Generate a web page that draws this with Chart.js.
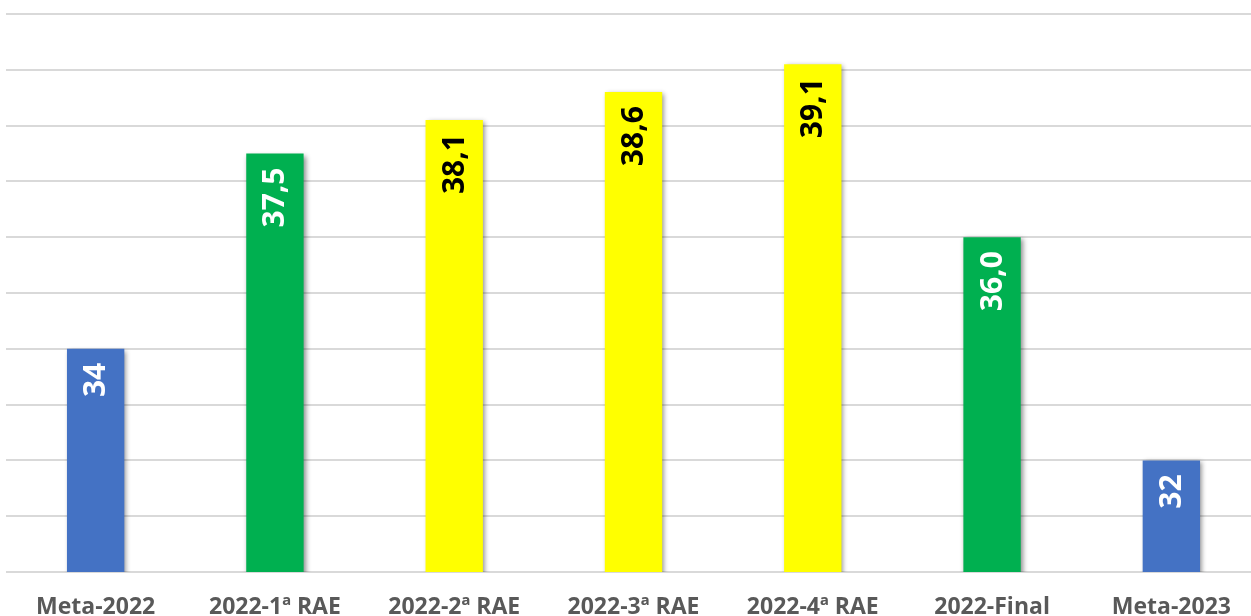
<!DOCTYPE html>
<html>
<head>
<meta charset="utf-8">
<script src="https://cdn.jsdelivr.net/npm/chart.js@4"></script>
<style>
  html, body { margin: 0; padding: 0; background: #fff; overflow: hidden; }
  #wrap { width: 1261px; height: 616px; }
</style>
</head>
<body>
<div id="wrap"><canvas id="rapChart" width="1261" height="616"></canvas></div>
<script>
const categorias = ['Meta-2022', '2022-1ª RAE', '2022-2ª RAE', '2022-3ª RAE', '2022-4ª RAE', '2022-Final', 'Meta-2023'];
const valores = [34, 37.5, 38.1, 38.6, 39.1, 36.0, 32];
const rotulos = ['34', '37,5', '38,1', '38,6', '39,1', '36,0', '32'];
const coresBarra = ['#4472C4', '#00B050', '#FFFF00', '#FFFF00', '#FFFF00', '#00B050', '#4472C4'];
const coresRotulo = ['#FFFFFF', '#FFFFFF', '#000000', '#000000', '#000000', '#FFFFFF', '#FFFFFF'];

// sombra das barras
const sombraPlugin = {
  id: 'sombra',
  beforeDatasetsDraw(chart) {
    const ctx = chart.ctx;
    ctx.save();
    ctx.shadowColor = 'rgba(0,0,0,0.45)';
    ctx.shadowBlur = 5;
    ctx.shadowOffsetX = 2;
    ctx.shadowOffsetY = 2;
  },
  afterDatasetsDraw(chart) {
    chart.ctx.restore();
  }
};

// rótulos verticais dentro das barras
const rotuloPlugin = {
  id: 'rotulos',
  afterDatasetsDraw(chart) {
    const ctx = chart.ctx;
    const meta = chart.getDatasetMeta(0);
    meta.data.forEach((bar, i) => {
      ctx.save();
      ctx.translate(bar.x, bar.y + 14);
      ctx.rotate(-Math.PI / 2);
      ctx.font = 'bold 30px "Open Sans"';
      ctx.fillStyle = coresRotulo[i];
      ctx.textAlign = 'right';
      ctx.textBaseline = 'middle';
      ctx.fillText(rotulos[i], 0, 1);
      ctx.restore();
    });
  }
};

const ctx = document.getElementById('rapChart').getContext('2d');
new Chart(ctx, {
  type: 'bar',
  data: {
    labels: categorias,
    datasets: [{
      data: valores,
      backgroundColor: coresBarra,
      borderWidth: 0,
      barPercentage: 0.32,
      categoryPercentage: 1
    }]
  },
  options: {
    responsive: false,
    animation: false,
    layout: { padding: { left: 6, top: 14, right: 0, bottom: 0 } },
    plugins: { legend: { display: false }, tooltip: { enabled: false } },
    scales: {
      x: {
        grid: { display: false },
        border: { display: false },
        ticks: {
          color: '#595959',
          font: { family: 'Open Sans', weight: 'bold', size: 23 },
          padding: 14,
          maxRotation: 0
        },
        afterFit(scale) { scale.height = 44; }
      },
      y: {
        min: 30,
        max: 40,
        ticks: { display: false, stepSize: 1 },
        grid: { color: '#D9D9D9', lineWidth: 2, drawTicks: false },
        border: { display: false }
      }
    }
  },
  plugins: [sombraPlugin, rotuloPlugin]
});
</script>
</body>
</html>
